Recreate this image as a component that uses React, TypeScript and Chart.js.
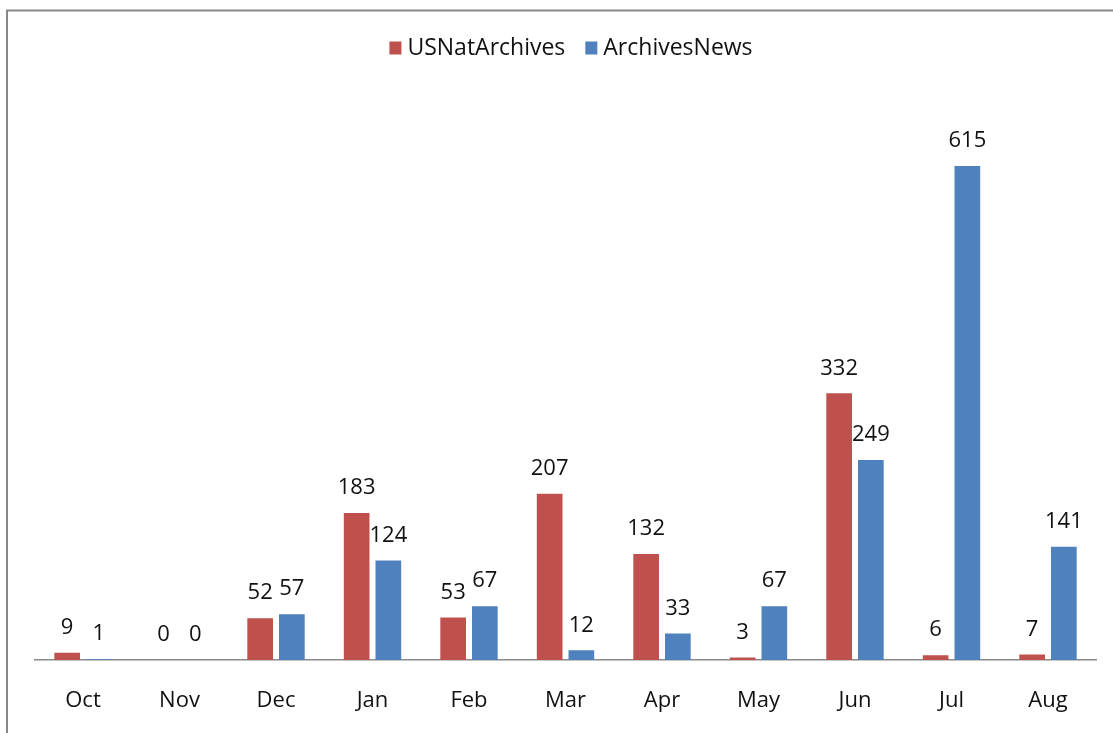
import React, { useEffect, useRef } from "react";
import { Chart, registerables } from "chart.js";

Chart.register(...registerables);

const months = ["Oct", "Nov", "Dec", "Jan", "Feb", "Mar", "Apr", "May", "Jun", "Jul", "Aug"];
const usNatArchives = [9, 0, 52, 183, 53, 207, 132, 3, 332, 6, 7];
const archivesNews = [1, 0, 57, 124, 67, 12, 33, 67, 249, 615, 141];
const seriesNames = ["USNatArchives", "ArchivesNews"];
const seriesColors = ["#C0504D", "#4F81BD"];

const FONT = "'Open Sans', 'Liberation Sans', sans-serif";

const framePlugin = {
  id: "frame",
  beforeDraw(chart: any) {
    const ctx = chart.ctx;
    ctx.save();
    ctx.fillStyle = "#ffffff";
    ctx.fillRect(0, 0, chart.width, chart.height);
    ctx.strokeStyle = "#888888";
    ctx.lineWidth = 2;
    ctx.beginPath();
    ctx.moveTo(7, chart.height + 2);
    ctx.lineTo(7, 10.5);
    ctx.lineTo(chart.width + 2, 10.5);
    ctx.stroke();
    ctx.restore();
  },
  afterDraw(chart: any) {
    const ctx = chart.ctx;
    ctx.save();
    // data labels
    ctx.font = `22px ${FONT}`;
    ctx.fillStyle = "#111111";
    ctx.textAlign = "center";
    ctx.textBaseline = "middle";
    chart.data.datasets.forEach((ds: any, i: number) => {
      const meta = chart.getDatasetMeta(i);
      meta.data.forEach((el: any, j: number) => {
        ctx.fillText(String(ds.data[j]), el.x, el.y - 25);
      });
    });
    // legend
    ctx.font = `23px ${FONT}`;
    ctx.textAlign = "left";
    const legendY = 48;
    const box = 12;
    const gapBoxText = 6;
    const gapItems = 20;
    const widths = seriesNames.map((n) => ctx.measureText(n).width);
    const total = widths.reduce((a, w) => a + box + gapBoxText + w, 0) + gapItems;
    let x = 571 - total / 2;
    seriesNames.forEach((n, i) => {
      ctx.fillStyle = seriesColors[i];
      ctx.fillRect(x, legendY - 6.5, box, 13);
      ctx.fillStyle = "#111111";
      ctx.fillText(n, x + box + gapBoxText, legendY);
      x += box + gapBoxText + widths[i] + gapItems;
    });
    ctx.restore();
  },
};

export default function App() {
  const ref = useRef<HTMLCanvasElement>(null);
  useEffect(() => {
    if (!ref.current) return;
    const chart = new Chart(ref.current, {
      type: "bar",
      data: {
        labels: months,
        datasets: [
          {
            label: seriesNames[0],
            data: usNatArchives,
            backgroundColor: seriesColors[0],
            categoryPercentage: 0.657,
            barPercentage: 0.81,
          },
          {
            label: seriesNames[1],
            data: archivesNews,
            backgroundColor: seriesColors[1],
            categoryPercentage: 0.657,
            barPercentage: 0.81,
          },
        ],
      },
      options: {
        responsive: false,
        animation: false,
        layout: { padding: { top: 97.7, left: 34.75, right: 16.75, bottom: 0 } },
        plugins: { legend: { display: false }, tooltip: { enabled: false } },
        scales: {
          x: {
            grid: { display: false, drawTicks: false },
            border: { display: true, color: "#8a8a8a", width: 1.5, z: -1 },
            ticks: { font: { size: 22, family: FONT }, color: "#111111", padding: 28 },
            afterFit: (scale: any) => {
              scale.height = 733 - 660;
            },
          },
          y: {
            display: false,
            min: 0,
            max: 700,
          },
        },
      },
      plugins: [framePlugin],
    });
    return () => chart.destroy();
  }, []);
  return (
    <div style={{ position: "absolute", left: 0, top: 0, width: 1113, height: 733 }}>
      <canvas ref={ref} width={1113} height={733} style={{ display: "block" }} />
    </div>
  );
}
